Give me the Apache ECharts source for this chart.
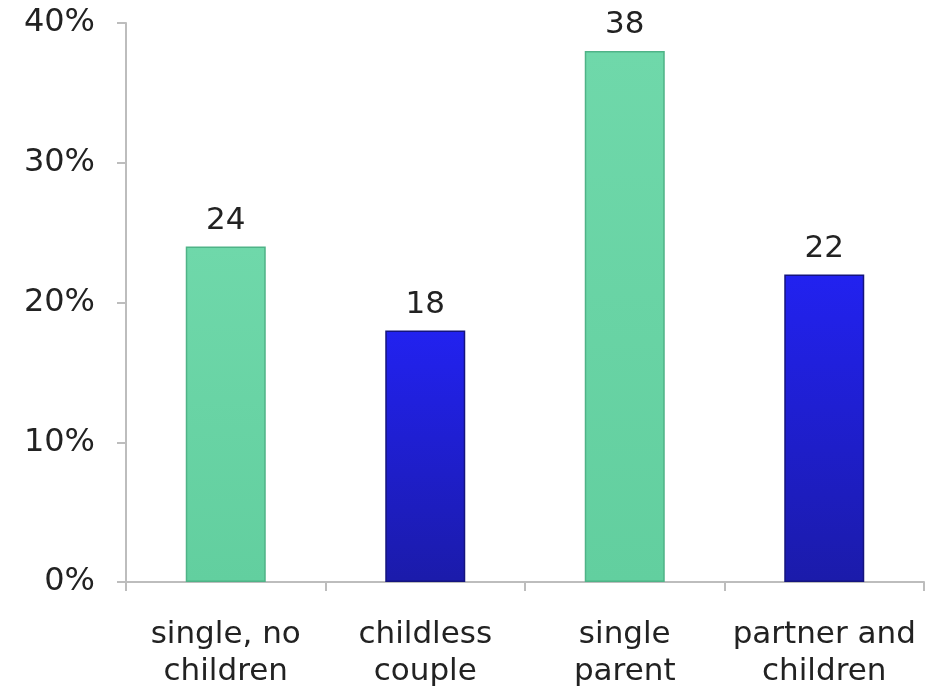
<!DOCTYPE html>
<html>
<head>
<meta charset="utf-8">
<script src="https://cdn.jsdelivr.net/npm/echarts@6/dist/echarts.min.js"></script>
<style>
  html, body { margin: 0; padding: 0; background: #fff; }
  #chart { width: 931px; height: 690px; }
</style>
</head>
<body>
<div id="chart"></div>
<script>
// Household types and their shares (percent)
const categories = ['single, no\nchildren', 'childless\ncouple', 'single\nparent', 'partner and\nchildren'];
const values = [24, 18, 38, 22];
const yTicks = [0, 10, 20, 30, 40];

// Bar fills: green for single-adult households, blue for couples
const greenFill = { top: '#6fd8aa', bottom: '#62cf9f', edge: '#4fb387' };
const blueFill = { top: '#2222f0', bottom: '#1b1baa', edge: '#14147e' };
const fills = [greenFill, blueFill, greenFill, blueFill];

const chart = echarts.init(document.getElementById('chart'));

const data = values.map((v, i) => ({
  value: v,
  itemStyle: {
    color: new echarts.graphic.LinearGradient(0, 0, 0, 1, [
      { offset: 0, color: fills[i].top },
      { offset: 1, color: fills[i].bottom }
    ]),
    borderColor: fills[i].edge,
    borderWidth: 1.5
  }
}));

chart.setOption({
  animation: false,
  backgroundColor: '#ffffff',
  grid: { left: 126, right: 7, top: 23, bottom: 108, containLabel: false },
  xAxis: {
    type: 'category',
    data: categories,
    axisLine: { lineStyle: { color: '#bdbdbd', width: 2 } },
    axisTick: { show: true, interval: 0, length: 9, lineStyle: { color: '#bdbdbd', width: 2 } },
    axisLabel: {
      interval: 0,
      color: '#222',
      fontFamily: 'DejaVu Sans',
      fontSize: 31,
      lineHeight: 37,
      margin: 34
    }
  },
  yAxis: {
    type: 'value',
    min: yTicks[0],
    max: yTicks[yTicks.length - 1],
    interval: 10,
    splitLine: { show: false },
    axisLine: { show: true, lineStyle: { color: '#bdbdbd', width: 2 } },
    axisTick: { show: true, length: 9, lineStyle: { color: '#bdbdbd', width: 2 } },
    axisLabel: {
      color: '#222',
      fontFamily: 'DejaVu Sans',
      fontSize: 32,
      margin: 31,
      formatter: v => v + '%'
    }
  },
  series: [{
    type: 'bar',
    data: data,
    barWidth: 80,
    label: {
      show: true,
      position: 'top',
      distance: 10,
      color: '#222',
      fontFamily: 'DejaVu Sans',
      fontSize: 31
    }
  }]
});
</script>
</body>
</html>
